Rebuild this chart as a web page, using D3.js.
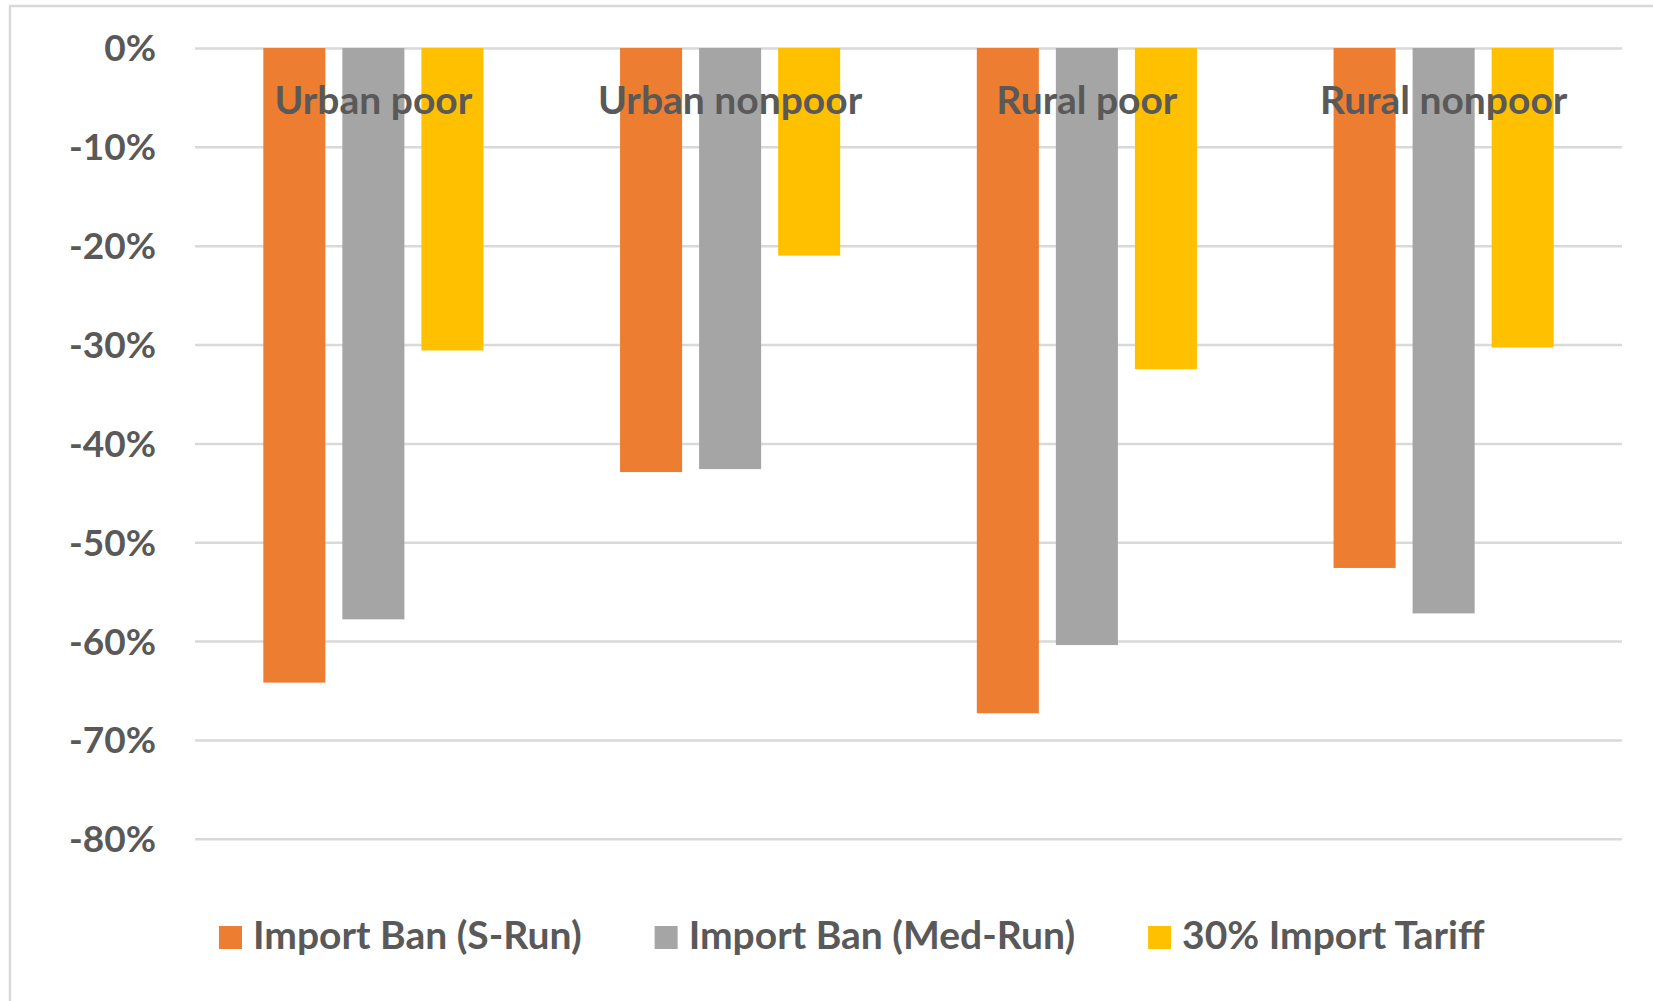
<!DOCTYPE html>
<html>
<head>
<meta charset="utf-8">
<script src="https://cdn.jsdelivr.net/npm/d3@7"></script>
<style>
  html, body { margin: 0; padding: 0; background: #fff; }
  svg { display: block; }
  text { font-family: Lato, "Open Sans", sans-serif; font-weight: 700; fill: #595959; }
</style>
</head>
<body>
<svg id="chart" width="1653" height="1001"></svg>
<script>
// ---- data ----
const categories = ["Urban poor", "Urban nonpoor", "Rural poor", "Rural nonpoor"];
const seriesNames = ["Import Ban (S-Run)", "Import Ban (Med-Run)", "30% Import Tariff"];
const sRun   = [-64.2, -42.9, -67.3, -52.6];
const medRun = [-57.8, -42.6, -60.4, -57.2];
const tariff = [-30.6, -21.0, -32.5, -30.3];
const yTicks = [0, -10, -20, -30, -40, -50, -60, -70, -80];
const colors = ["#ED7D31", "#A5A5A5", "#FFC000"];

const seriesValues = [sRun, medRun, tariff];

// ---- layout ----
const svg = d3.select("#chart");
const plot = { left: 195, right: 1622, top: 48, bottom: 838.8 };

// chart frame
svg.append("rect")
  .attr("x", 10).attr("y", 6)
  .attr("width", 1720).attr("height", 1100)
  .attr("fill", "none")
  .attr("stroke", "#d9d9d9")
  .attr("stroke-width", 2.5);

const y = d3.scaleLinear().domain([-80, 0]).range([plot.bottom, plot.top]);
const x0 = d3.scaleBand().domain(categories).range([plot.left, plot.right])
  .paddingInner(0.383).paddingOuter(0.1915);
const x1 = d3.scaleBand().domain(seriesNames).range([0, x0.bandwidth()]).paddingInner(0.215);

// gridlines + y labels
const yAxis = d3.axisLeft(y)
  .tickValues(yTicks)
  .tickSize(-(plot.right - plot.left))
  .tickPadding(39)
  .tickFormat(d => d + "%");

const gy = svg.append("g")
  .attr("transform", `translate(${plot.left},0)`)
  .call(yAxis);
gy.select(".domain").remove();
gy.selectAll(".tick line").attr("stroke", "#d9d9d9").attr("stroke-width", 2.5);
gy.selectAll(".tick text")
  .attr("dy", "0.35em")
  .style("font-size", "37px")
  .style("font-family", "Lato, sans-serif")
  .style("font-weight", 700)
  .attr("fill", "#595959");

// bars
const rows = categories.map((c, i) => ({
  cat: c,
  vals: seriesNames.map((s, j) => ({ series: s, idx: j, value: seriesValues[j][i] }))
}));

const groups = svg.append("g").selectAll("g")
  .data(rows).join("g")
  .attr("transform", d => `translate(${x0(d.cat)},0)`);

groups.selectAll("rect")
  .data(d => d.vals).join("rect")
  .attr("x", d => x1(d.series))
  .attr("width", x1.bandwidth())
  .attr("y", d => y(Math.max(0, d.value)))
  .attr("height", d => Math.abs(y(d.value) - y(0)))
  .attr("fill", d => colors[d.idx]);

// category axis labels (at zero line, below)
const xAxis = d3.axisBottom(x0).tickSize(0).tickPadding(38.5);
const gx = svg.append("g")
  .attr("transform", `translate(0,${y(0)})`)
  .call(xAxis);
gx.select(".domain").remove();
gx.selectAll(".tick text")
  .style("font-size", "39px")
  .style("font-family", "Lato, sans-serif")
  .style("font-weight", 700)
  .attr("fill", "#595959");

// legend
const legend = svg.append("g").attr("transform", "translate(219,0)");
let lx = 0;
const sq = 23;
seriesNames.forEach((name, i) => {
  const g = legend.append("g").attr("transform", `translate(${lx},0)`);
  g.append("rect")
    .attr("x", 0).attr("y", 926)
    .attr("width", sq).attr("height", sq)
    .attr("fill", colors[i]);
  const t = g.append("text")
    .attr("x", sq + 11).attr("y", 949)
    .style("font-size", "39px")
    .text(name);
  const w = t.node().getComputedTextLength();
  lx += sq + 11 + w + 73;
});
</script>
</body>
</html>
